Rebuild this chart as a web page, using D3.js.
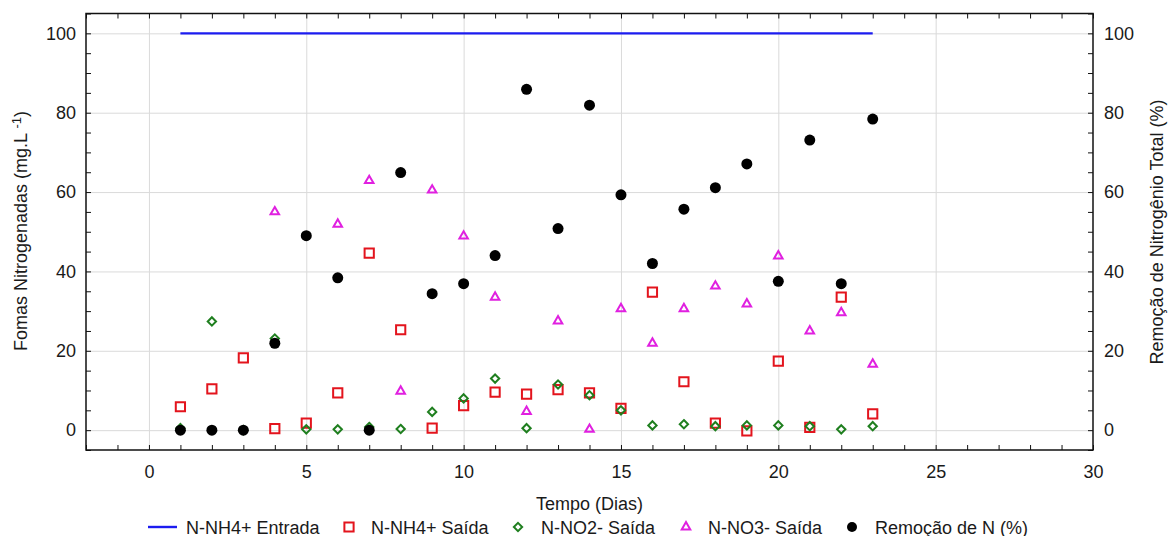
<!DOCTYPE html>
<html>
<head>
<meta charset="utf-8">
<script src="https://cdn.jsdelivr.net/npm/d3@7"></script>
<style>
    body { margin: 0; background: #fff; }
    svg text { font-family: 'Liberation Sans', Arial, sans-serif; fill: #1a1a1a; }
</style>
</head>
<body>
<svg width="1168" height="536"></svg>
<script>
// dias do experimento
const days = [1, 2, 3, 4, 5, 6, 7, 8, 9, 10, 11, 12, 13, 14, 15, 16, 17, 18, 19, 20, 21, 22, 23];
const nh4Entrada = [100, 100, 100, 100, 100, 100, 100, 100, 100, 100, 100, 100,
    100, 100, 100, 100, 100, 100, 100, 100, 100, 100, 100];
const nh4Saida = [5.9, 10.4, 18.2, 0.4, 1.8, 9.4, 44.6, 25.3, 0.5, 6.2, 9.6, 9.1,
    10.2, 9.4, 5.5, 34.8, 12.2, 1.8, -0.2, 17.4, 0.7, 33.5, 4.1];
const no2Saida = [0.5, 27.4, 0, 23.1, 0.2, 0.2, 0.8, 0.3, 4.6, 8.0, 13.0, 0.5,
    11.5, 8.8, 5.0, 1.2, 1.5, 1.0, 1.2, 1.2, 1.0, 0.2, 1.0];
const no3Saida = [null, null, null, 55.0, null, 51.9, 62.9, 9.8, 60.5, 48.9, 33.5, 4.7,
    27.5, 0.2, 30.6, 21.9, 30.6, 36.3, 31.8, 43.9, 25.0, 29.6, 16.6];
const remocao = [0, 0, 0, 21.9, 49.0, 38.4, 0, 64.9, 34.4, 36.9, 44.0, 85.9,
    50.8, 81.9, 59.3, 42.0, 55.7, 61.1, 67.1, 37.5, 73.1, 36.9, 78.4];

const xTicks = [0, 5, 10, 15, 20, 25, 30];
const yTicks = [0, 20, 40, 60, 80, 100];
const legendLabels = ['N-NH4+ Entrada', 'N-NH4+ Saída', 'N-NO2- Saída', 'N-NO3- Saída', 'Remoção de N (%)'];

(function () {
    const svg = d3.select('svg'),
            width = +svg.attr('width'),
            height = +svg.attr('height');

    const margin = { top: 13.5, right: 75, bottom: 86, left: 86 };
    const w = width - margin.left - margin.right,
            h = height - margin.top - margin.bottom;

    const x = d3.scaleLinear().domain([-2, 30]).range([0, w]);
    const y = d3.scaleLinear().domain([-5, 105]).range([h, 0]);
    const y2 = d3.scaleLinear().domain([-5, 105]).range([h, 0]);

    const g = svg.append('g')
            .attr('transform', `translate(${margin.left},${margin.top})`);

    // grade
    g.append('g')
            .attr('transform', `translate(0,${h})`)
            .call(d3.axisBottom(x).tickValues(xTicks.slice(0, -1)).tickSize(-h).tickFormat(''))
            .call(s => s.select('.domain').remove())
            .call(s => s.selectAll('line').attr('stroke', '#dadada'));
    g.append('g')
            .call(d3.axisLeft(y).tickValues(yTicks).tickSize(-w).tickFormat(''))
            .call(s => s.select('.domain').remove())
            .call(s => s.selectAll('line').attr('stroke', '#dadada'));

    // ticks menores, para dentro
    const xMinor = d3.range(-2, 31, 1);
    const yMinor = d3.range(-5, 106, 5);
    const tickStyle = s => {
        s.select('.domain').remove();
        s.selectAll('line').attr('stroke', '#111');
    };
    g.append('g').attr('transform', `translate(0,${h})`)
            .call(d3.axisBottom(x).tickValues(xMinor).tickSize(-5).tickFormat('')).call(tickStyle);
    g.append('g')
            .call(d3.axisTop(x).tickValues(xMinor).tickSize(-5).tickFormat('')).call(tickStyle);
    g.append('g')
            .call(d3.axisLeft(y).tickValues(yMinor).tickSize(-5).tickFormat('')).call(tickStyle);
    g.append('g').attr('transform', `translate(${w},0)`)
            .call(d3.axisRight(y2).tickValues(yMinor).tickSize(-5).tickFormat('')).call(tickStyle);

    // rotulos
    const labelStyle = s => {
        s.select('.domain').remove();
        s.selectAll('line').remove();
        s.selectAll('text').attr('font-size', 18).attr('font-family', null).attr('fill', '#1a1a1a');
    };
    g.append('g').attr('transform', `translate(0,${h})`)
            .call(d3.axisBottom(x).tickValues(xTicks).tickSize(0).tickPadding(15)).call(labelStyle);
    g.append('g')
            .call(d3.axisLeft(y).tickValues(yTicks).tickSize(0).tickPadding(10)).call(labelStyle);
    g.append('g').attr('transform', `translate(${w},0)`)
            .call(d3.axisRight(y2).tickValues(yTicks).tickSize(0).tickPadding(11)).call(labelStyle);

    // linha de entrada
    const entrada = days.map((d, i) => ({ x: d, y: nh4Entrada[i] }));
    g.append('path')
            .datum([entrada[0], entrada[entrada.length - 1]])
            .attr('fill', 'none')
            .attr('stroke', '#1c1cf0')
            .attr('stroke-width', 2.4)
            .attr('d', d3.line().x(d => x(d.x)).y(d => y(d.y)));

    const pts = arr => days.map((d, i) => ({ x: d, y: arr[i] })).filter(d => d.y !== null);

    const square = d3.symbol().type(d3.symbolSquare).size(85);
    const diamond = d3.symbol().type(d3.symbolDiamond2).size(44);
    const triangle = d3.symbol().type(d3.symbolTriangle2).size(52);

    g.append('g').selectAll('path')
            .data(pts(nh4Saida))
            .enter().append('path')
            .attr('d', square)
            .attr('transform', d => `translate(${x(d.x)},${y(d.y)})`)
            .attr('fill', 'none')
            .attr('stroke', '#e3141d')
            .attr('stroke-width', 2);

    g.append('g').selectAll('path')
            .data(pts(no2Saida))
            .enter().append('path')
            .attr('d', diamond)
            .attr('transform', d => `translate(${x(d.x)},${y(d.y)})`)
            .attr('fill', 'none')
            .attr('stroke', '#1f7f1f')
            .attr('stroke-width', 2);

    g.append('g').selectAll('path')
            .data(pts(no3Saida))
            .enter().append('path')
            .attr('d', triangle)
            .attr('transform', d => `translate(${x(d.x)},${y(d.y)})`)
            .attr('fill', 'none')
            .attr('stroke', '#e020e0')
            .attr('stroke-width', 2);

    g.append('g').selectAll('circle')
            .data(pts(remocao))
            .enter().append('circle')
            .attr('cx', d => x(d.x))
            .attr('cy', d => y2(d.y))
            .attr('r', 5.5)
            .attr('fill', '#000');

    // moldura
    g.append('rect')
            .attr('width', w)
            .attr('height', h)
            .attr('fill', 'none')
            .attr('stroke', '#111')
            .attr('stroke-width', 1.5);

    // titulos dos eixos
    svg.append('text')
            .attr('x', margin.left + x(14))
            .attr('y', 510)
            .attr('text-anchor', 'middle')
            .attr('font-size', 18)
            .text('Tempo (Dias)');

    const yl = svg.append('text')
            .attr('transform', 'translate(27,231) rotate(-90)')
            .attr('text-anchor', 'middle')
            .attr('font-size', 18);
    yl.append('tspan').text('Fomas Nitrogenadas (mg.L ');
    yl.append('tspan').attr('font-size', 13).attr('dy', -6).text('-1');
    yl.append('tspan').attr('dy', 6).text(')');

    svg.append('text')
            .attr('transform', 'translate(1163,232) rotate(-90)')
            .attr('text-anchor', 'middle')
            .attr('font-size', 18)
            .text('Remoção de Nitrogênio Total (%)');

    // legenda
    const ly = 527;
    const legendX = [186, 371, 541, 708, 875];
    const leg = svg.append('g');
    leg.append('line')
            .attr('x1', 148).attr('x2', 177)
            .attr('y1', ly).attr('y2', ly)
            .attr('stroke', '#1c1cf0').attr('stroke-width', 2.4);
    leg.append('path').attr('d', square)
            .attr('transform', `translate(349,${ly})`)
            .attr('fill', 'none').attr('stroke', '#e3141d').attr('stroke-width', 2);
    leg.append('path').attr('d', diamond)
            .attr('transform', `translate(518,${ly})`)
            .attr('fill', 'none').attr('stroke', '#1f7f1f').attr('stroke-width', 2);
    leg.append('path').attr('d', triangle)
            .attr('transform', `translate(686,${ly})`)
            .attr('fill', 'none').attr('stroke', '#e020e0').attr('stroke-width', 2);
    leg.append('circle')
            .attr('cx', 852).attr('cy', ly).attr('r', 5)
            .attr('fill', '#000');
    leg.selectAll('text')
            .data(legendLabels)
            .enter().append('text')
            .attr('x', (d, i) => legendX[i])
            .attr('y', ly + 6.5)
            .attr('font-size', 18)
            .text(d => d);
})();
</script>
</body>
</html>
